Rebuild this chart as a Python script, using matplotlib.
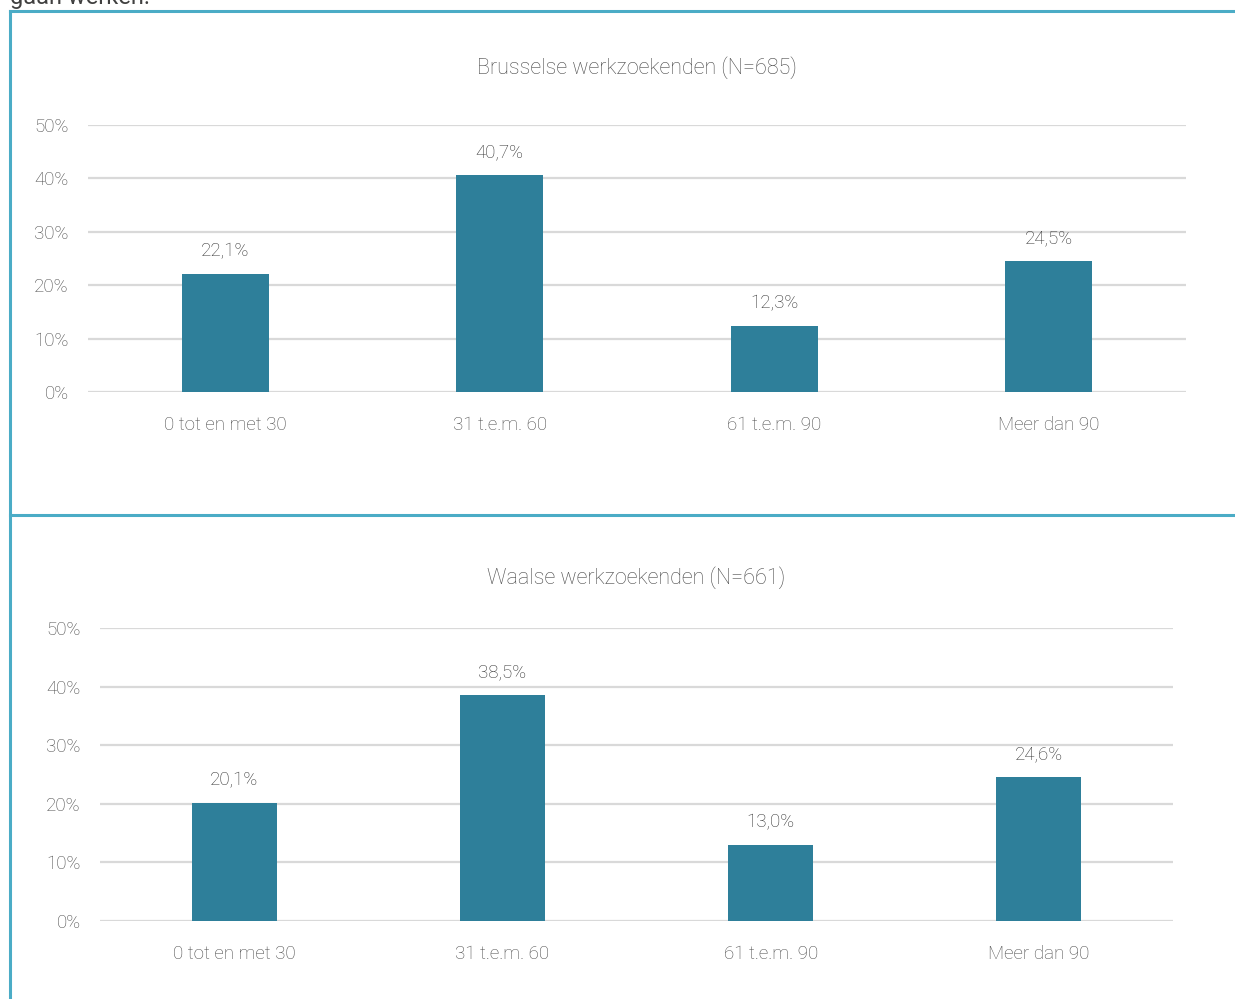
import matplotlib.pyplot as plt
from matplotlib.lines import Line2D

categories = ["0 tot en met 30", "31 t.e.m. 60", "61 t.e.m. 90", "Meer dan 90"]
brussel_values = [22.1, 40.7, 12.3, 24.5]
wallonie_values = [20.1, 38.5, 13.0, 24.6]
yticks = [0, 10, 20, 30, 40, 50]

titles = ["Brusselse werkzoekenden (N=685)", "Waalse werkzoekenden (N=661)"]

bar_color = "#2E7F9A"
border_color = "#4BACC6"
grid_color = "#D9D9D9"
tick_color = "#4A4A4A"
label_color = "#333333"

plt.rcParams['font.family'] = ["Roboto", "DejaVu Sans"]
plt.rcParams['font.weight'] = 'light'

W, H = 1235, 999
fig = plt.figure(figsize=(W / 100, H / 100), dpi=100)


def px_axes(left, right, top, bottom):
    return fig.add_axes([left / W, 1 - bottom / H, (right - left) / W, (bottom - top) / H])


def draw_panel(ax, values, title, title_y):
    x = range(len(categories))
    ax.bar(x, values, width=0.317, color=bar_color, zorder=3)
    ax.set_xlim(-0.5, len(categories) - 0.5)
    ax.set_ylim(0, 50)
    ax.set_yticks(yticks)
    ax.set_yticklabels([f"{v}%" for v in yticks])
    ax.set_xticks(list(x))
    ax.set_xticklabels(categories)
    ax.yaxis.grid(True, color=grid_color, linewidth=1.6, zorder=0)
    ax.set_axisbelow(True)
    for s in ax.spines.values():
        s.set_visible(False)
    ax.tick_params(axis='both', length=0, labelsize=13.5, colors=tick_color)
    ax.tick_params(axis='y', pad=14)
    ax.tick_params(axis='x', pad=17)
    for xi, v in zip(x, values):
        ax.annotate(f"{v:.1f}".replace(".", ",") + "%", xy=(xi, v), xytext=(0, 10),
                    textcoords="offset points", ha='center', va='bottom',
                    fontsize=13.5, color=label_color)
    pos = ax.get_position()
    fig.text(0.5 * (pos.x0 + pos.x1), 1 - title_y / H, title,
             ha='center', va='center', fontsize=15.5, color=tick_color)


ax1 = px_axes(88, 1186, 125, 392)
draw_panel(ax1, brussel_values, titles[0], 68)

ax2 = px_axes(100, 1173, 628, 921)
draw_panel(ax2, wallonie_values, titles[1], 578)

# panel borders
lw = 2.2
fig.add_artist(Line2D([10 / W, 10 / W], [0, 1 - 11 / H], color=border_color, linewidth=lw))
fig.add_artist(Line2D([10 / W, 1], [1 - 11 / H, 1 - 11 / H], color=border_color, linewidth=lw))
fig.add_artist(Line2D([10 / W, 1], [1 - 515 / H, 1 - 515 / H], color=border_color, linewidth=lw))

# cut-off text from the page above
fig.text(10 / W, 1 - 4 / H, "gaan werken.", ha='left', va='baseline', fontsize=17,
         fontweight='normal', color="#404040")

plt.savefig("out.png", dpi=100)
